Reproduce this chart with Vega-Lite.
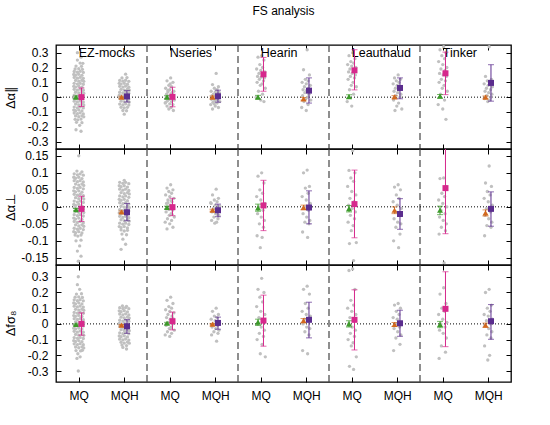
{
"$schema":"https://vega.github.io/schema/vega-lite/v6.json",
"padding":{"left":3,"top":4,"right":10,"bottom":10},
"config":{"font":"Liberation Sans","view":{"stroke":"black","strokeWidth":1.3},
"locale":{"number":{"decimal":".","thousands":",","grouping":[3],"currency":["",""],"minus":"-"}},
"axis":{"domain":false,"grid":false,"tickColor":"black","tickSize":-5,"tickWidth":1,"labelColor":"black","labelFontSize":12,"labelFont":"Liberation Sans","titleFont":"Liberation Sans","titleFontSize":13,"titleFontWeight":"normal","titleColor":"black","labelPadding":13}},
"title":{"text":"FS analysis","fontSize":12,"fontWeight":"normal","font":"Liberation Sans","color":"black","anchor":"middle","frame":"group","offset":17,"baseline":"alphabetic"},
"spacing":0,
"bounds":"flush",
"datasets":{
"sep":[{"x":2},{"x":4},{"x":6},{"x":8}],
"zero":[{"y":0}],
"labels":[{"name":"EZ-mocks","x":0.5,"y":0.3},{"name":"Nseries","x":2.5,"y":0.3},{"name":"Hearin","x":4.5,"y":0.3},{"name":"Leauthaud","x":6.5,"y":0.3},{"name":"Tinker","x":8.5,"y":0.3}],
"m1":[
{"x":0.44,"y":0,"lo":-0.008,"hi":0.008,"k":"MQ t"},{"x":0.56,"y":0.0,"lo":-0.063,"hi":0.062,"k":"MQ"},{"x":1.44,"y":0.0,"lo":-0.006,"hi":0.006,"k":"MQH t"},{"x":1.56,"y":0.005,"lo":-0.033,"hi":0.044,"k":"MQH"},
{"x":2.44,"y":0,"lo":-0.01,"hi":0.01,"k":"MQ t"},{"x":2.56,"y":0.002,"lo":-0.065,"hi":0.067,"k":"MQ"},{"x":3.44,"y":0.0,"lo":-0.008,"hi":0.008,"k":"MQH t"},{"x":3.56,"y":0.006,"lo":-0.034,"hi":0.047,"k":"MQH"},
{"x":4.44,"y":0,"lo":-0.012,"hi":0.012,"k":"MQ t"},{"x":4.56,"y":0.154,"lo":0.04,"hi":0.268,"k":"MQ"},{"x":5.44,"y":-0.011,"lo":-0.02,"hi":-0.002,"k":"MQH t"},{"x":5.56,"y":0.044,"lo":-0.04,"hi":0.13,"k":"MQH"},
{"x":6.44,"y":0.004,"lo":-0.008,"hi":0.016,"k":"MQ t"},{"x":6.56,"y":0.181,"lo":0.049,"hi":0.32,"k":"MQ"},{"x":7.44,"y":0.002,"lo":-0.006,"hi":0.01,"k":"MQH t"},{"x":7.56,"y":0.062,"lo":-0.011,"hi":0.13,"k":"MQH"},
{"x":8.44,"y":0.006,"lo":-0.006,"hi":0.018,"k":"MQ t"},{"x":8.56,"y":0.161,"lo":0.017,"hi":0.304,"k":"MQ"},{"x":9.44,"y":0.0,"lo":-0.008,"hi":0.008,"k":"MQH t"},{"x":9.56,"y":0.096,"lo":-0.027,"hi":0.219,"k":"MQH"}],
"m2":[
{"x":0.44,"y":-0.008,"lo":-0.011,"hi":-0.005,"k":"MQ t"},{"x":0.56,"y":-0.006,"lo":-0.043,"hi":0.031,"k":"MQ"},{"x":1.44,"y":-0.015,"lo":-0.018,"hi":-0.012,"k":"MQH t"},{"x":1.56,"y":-0.016,"lo":-0.041,"hi":0.01,"k":"MQH"},
{"x":2.44,"y":-0.002,"lo":-0.006,"hi":0.002,"k":"MQ t"},{"x":2.56,"y":-0.001,"lo":-0.026,"hi":0.025,"k":"MQ"},{"x":3.44,"y":-0.01,"lo":-0.013,"hi":-0.007,"k":"MQH t"},{"x":3.56,"y":-0.01,"lo":-0.029,"hi":0.008,"k":"MQH"},
{"x":4.44,"y":-0.003,"lo":-0.013,"hi":0.008,"k":"MQ t"},{"x":4.56,"y":0.004,"lo":-0.07,"hi":0.078,"k":"MQ"},{"x":5.44,"y":-0.002,"lo":-0.009,"hi":0.005,"k":"MQH t"},{"x":5.56,"y":-0.002,"lo":-0.05,"hi":0.047,"k":"MQH"},
{"x":6.44,"y":-0.005,"lo":-0.015,"hi":0.004,"k":"MQ t"},{"x":6.56,"y":0.008,"lo":-0.091,"hi":0.108,"k":"MQ"},{"x":7.44,"y":-0.01,"lo":-0.02,"hi":0.0,"k":"MQH t"},{"x":7.56,"y":-0.021,"lo":-0.066,"hi":0.024,"k":"MQH"},
{"x":8.44,"y":-0.01,"lo":-0.023,"hi":0.002,"k":"MQ t"},{"x":8.56,"y":0.055,"lo":-0.079,"hi":0.2,"k":"MQ"},{"x":9.44,"y":-0.018,"lo":-0.027,"hi":-0.009,"k":"MQH t"},{"x":9.56,"y":-0.006,"lo":-0.057,"hi":0.044,"k":"MQH"}],
"m3":[
{"x":0.44,"y":-0.004,"lo":-0.008,"hi":0.0,"k":"MQ t"},{"x":0.56,"y":0.0,"lo":-0.072,"hi":0.07,"k":"MQ"},{"x":1.44,"y":-0.008,"lo":-0.012,"hi":-0.004,"k":"MQH t"},{"x":1.56,"y":-0.015,"lo":-0.06,"hi":0.027,"k":"MQH"},
{"x":2.44,"y":0.004,"lo":-0.002,"hi":0.01,"k":"MQ t"},{"x":2.56,"y":0.017,"lo":-0.038,"hi":0.075,"k":"MQ"},{"x":3.44,"y":-0.002,"lo":-0.007,"hi":0.003,"k":"MQH t"},{"x":3.56,"y":0.006,"lo":-0.034,"hi":0.043,"k":"MQH"},
{"x":4.44,"y":0.011,"lo":-0.01,"hi":0.03,"k":"MQ t"},{"x":4.56,"y":0.021,"lo":-0.142,"hi":0.183,"k":"MQ"},{"x":5.44,"y":0.021,"lo":0.008,"hi":0.034,"k":"MQH t"},{"x":5.56,"y":0.026,"lo":-0.089,"hi":0.138,"k":"MQH"},
{"x":6.44,"y":0.0,"lo":-0.02,"hi":0.02,"k":"MQ t"},{"x":6.56,"y":0.026,"lo":-0.166,"hi":0.217,"k":"MQ"},{"x":7.44,"y":-0.004,"lo":-0.017,"hi":0.009,"k":"MQH t"},{"x":7.56,"y":0.004,"lo":-0.079,"hi":0.087,"k":"MQH"},
{"x":8.44,"y":-0.004,"lo":-0.024,"hi":0.016,"k":"MQ t"},{"x":8.56,"y":0.096,"lo":-0.145,"hi":0.332,"k":"MQ"},{"x":9.44,"y":-0.008,"lo":-0.021,"hi":0.005,"k":"MQH t"},{"x":9.56,"y":0.017,"lo":-0.098,"hi":0.123,"k":"MQH"}],
"p1":[
{"x":0.47,"y":0.3},{"x":0.55,"y":0.27},{"x":0.47,"y":0.25},{"x":0.53,"y":0.23},{"x":0.59,"y":0.228},{"x":0.44,"y":0.21},{"x":0.56,"y":0.208},{"x":0.42,"y":0.19},{"x":0.5,"y":0.192},{"x":0.58,"y":0.188},
{"x":0.4,"y":0.173},{"x":0.47,"y":0.168},{"x":0.53,"y":0.174},{"x":0.6,"y":0.167},
{"x":0.39,"y":0.153},{"x":0.43,"y":0.148},{"x":0.5,"y":0.154},{"x":0.57,"y":0.147},
{"x":0.4,"y":0.133},{"x":0.47,"y":0.128},{"x":0.53,"y":0.134},{"x":0.6,"y":0.127},
{"x":0.43,"y":0.113},{"x":0.5,"y":0.108},{"x":0.57,"y":0.114},{"x":0.61,"y":0.107},
{"x":0.4,"y":0.093},{"x":0.47,"y":0.088},{"x":0.53,"y":0.094},{"x":0.6,"y":0.087},
{"x":0.39,"y":0.073},{"x":0.43,"y":0.068},{"x":0.5,"y":0.074},{"x":0.57,"y":0.067},
{"x":0.4,"y":0.053},{"x":0.47,"y":0.048},{"x":0.53,"y":0.054},{"x":0.6,"y":0.047},
{"x":0.43,"y":0.033},{"x":0.5,"y":0.028},{"x":0.57,"y":0.034},{"x":0.61,"y":0.027},
{"x":0.4,"y":0.013},{"x":0.47,"y":0.008},{"x":0.53,"y":0.014},{"x":0.6,"y":0.007},
{"x":0.39,"y":-0.007},{"x":0.43,"y":-0.012},{"x":0.5,"y":-0.006},{"x":0.57,"y":-0.013},
{"x":0.4,"y":-0.027},{"x":0.47,"y":-0.032},{"x":0.53,"y":-0.026},{"x":0.6,"y":-0.033},
{"x":0.43,"y":-0.047},{"x":0.5,"y":-0.052},{"x":0.57,"y":-0.046},{"x":0.61,"y":-0.053},
{"x":0.4,"y":-0.067},{"x":0.47,"y":-0.072},{"x":0.53,"y":-0.066},{"x":0.6,"y":-0.073},
{"x":0.39,"y":-0.087},{"x":0.43,"y":-0.092},{"x":0.5,"y":-0.086},{"x":0.57,"y":-0.093},
{"x":0.4,"y":-0.107},{"x":0.47,"y":-0.112},{"x":0.53,"y":-0.106},{"x":0.6,"y":-0.113},
{"x":0.43,"y":-0.127},{"x":0.5,"y":-0.132},{"x":0.57,"y":-0.126},{"x":0.61,"y":-0.133},
{"x":0.42,"y":-0.15},{"x":0.48,"y":-0.153},{"x":0.55,"y":-0.148},{"x":0.45,"y":-0.17},{"x":0.57,"y":-0.172},{"x":0.52,"y":-0.19},{"x":0.44,"y":-0.22},{"x":0.55,"y":-0.23},
{"x":1.53,"y":0.155},{"x":1.45,"y":0.13},{"x":1.56,"y":0.132},
{"x":1.4,"y":0.113},{"x":1.47,"y":0.108},{"x":1.53,"y":0.114},{"x":1.6,"y":0.107},
{"x":1.39,"y":0.093},{"x":1.43,"y":0.088},{"x":1.5,"y":0.094},{"x":1.57,"y":0.087},
{"x":1.4,"y":0.073},{"x":1.47,"y":0.068},{"x":1.53,"y":0.074},{"x":1.6,"y":0.067},
{"x":1.43,"y":0.053},{"x":1.5,"y":0.048},{"x":1.57,"y":0.054},{"x":1.61,"y":0.047},
{"x":1.4,"y":0.033},{"x":1.47,"y":0.028},{"x":1.53,"y":0.034},{"x":1.6,"y":0.027},
{"x":1.39,"y":0.013},{"x":1.43,"y":0.008},{"x":1.5,"y":0.014},{"x":1.57,"y":0.007},
{"x":1.4,"y":-0.007},{"x":1.47,"y":-0.012},{"x":1.53,"y":-0.006},{"x":1.6,"y":-0.013},
{"x":1.43,"y":-0.027},{"x":1.5,"y":-0.032},{"x":1.57,"y":-0.026},{"x":1.61,"y":-0.033},
{"x":1.4,"y":-0.047},{"x":1.47,"y":-0.052},{"x":1.53,"y":-0.046},{"x":1.6,"y":-0.053},
{"x":1.43,"y":-0.068},{"x":1.5,"y":-0.072},{"x":1.57,"y":-0.069},
{"x":1.47,"y":-0.09},{"x":1.55,"y":-0.092},{"x":1.5,"y":-0.115},
{"x":2.52,"y":0.13},{"x":2.44,"y":0.11},{"x":2.57,"y":0.1},{"x":2.48,"y":0.08},{"x":2.54,"y":0.07},{"x":2.41,"y":0.06},{"x":2.5,"y":0.05},{"x":2.59,"y":0.04},{"x":2.46,"y":0.035},{"x":2.55,"y":0.03},{"x":2.43,"y":0.02},{"x":2.51,"y":0.015},{"x":2.58,"y":0.01},{"x":2.47,"y":0.005},{"x":2.56,"y":0.0},{"x":2.42,"y":-0.005},{"x":2.53,"y":-0.01},{"x":2.49,"y":-0.015},{"x":2.6,"y":-0.02},{"x":2.45,"y":-0.025},{"x":2.54,"y":-0.03},{"x":2.4,"y":-0.04},{"x":2.5,"y":-0.045},{"x":2.57,"y":-0.05},{"x":2.44,"y":-0.06},{"x":2.53,"y":-0.07},{"x":2.48,"y":-0.08},{"x":2.58,"y":-0.09},{"x":2.46,"y":0.045},{"x":2.55,"y":0.025},{"x":2.41,"y":-0.035},{"x":2.51,"y":0.09},
{"x":3.52,"y":0.16},{"x":3.44,"y":0.085},{"x":3.57,"y":0.07},{"x":3.48,"y":0.06},{"x":3.54,"y":0.05},{"x":3.41,"y":0.04},{"x":3.5,"y":0.035},{"x":3.59,"y":0.03},{"x":3.46,"y":0.02},{"x":3.55,"y":0.015},{"x":3.43,"y":0.01},{"x":3.51,"y":0.005},{"x":3.58,"y":0.0},{"x":3.47,"y":-0.005},{"x":3.56,"y":-0.01},{"x":3.42,"y":-0.015},{"x":3.53,"y":-0.02},{"x":3.49,"y":-0.025},{"x":3.6,"y":-0.03},{"x":3.45,"y":-0.035},{"x":3.54,"y":-0.04},{"x":3.4,"y":-0.05},{"x":3.5,"y":-0.06},{"x":3.57,"y":-0.07},{"x":3.44,"y":-0.08},{"x":3.53,"y":0.025},{"x":3.48,"y":-0.045},
{"x":4.52,"y":0.28},{"x":4.44,"y":0.27},{"x":4.57,"y":0.25},{"x":4.48,"y":0.22},{"x":4.54,"y":0.2},{"x":4.41,"y":0.19},{"x":4.5,"y":0.18},{"x":4.59,"y":0.17},{"x":4.46,"y":0.16},{"x":4.55,"y":0.15},{"x":4.43,"y":0.14},{"x":4.51,"y":0.135},{"x":4.58,"y":0.13},{"x":4.47,"y":0.12},{"x":4.56,"y":0.11},{"x":4.42,"y":0.1},{"x":4.53,"y":0.09},{"x":4.49,"y":0.08},{"x":4.6,"y":0.06},{"x":4.45,"y":0.04},{"x":4.54,"y":0.02},{"x":4.4,"y":0.0},{"x":4.5,"y":-0.02},{"x":4.57,"y":-0.03},
{"x":5.52,"y":0.32},{"x":5.44,"y":0.185},{"x":5.57,"y":0.15},{"x":5.48,"y":0.12},{"x":5.54,"y":0.11},{"x":5.41,"y":0.1},{"x":5.5,"y":0.09},{"x":5.59,"y":0.08},{"x":5.46,"y":0.07},{"x":5.55,"y":0.06},{"x":5.43,"y":0.05},{"x":5.51,"y":0.045},{"x":5.58,"y":0.04},{"x":5.47,"y":0.03},{"x":5.56,"y":0.02},{"x":5.42,"y":0.01},{"x":5.53,"y":0.0},{"x":5.49,"y":-0.01},{"x":5.6,"y":-0.02},{"x":5.45,"y":-0.03},{"x":5.54,"y":-0.05},{"x":5.4,"y":-0.07},{"x":5.5,"y":-0.09},
{"x":6.52,"y":0.3},{"x":6.44,"y":0.28},{"x":6.57,"y":0.26},{"x":6.48,"y":0.24},{"x":6.54,"y":0.23},{"x":6.41,"y":0.22},{"x":6.5,"y":0.21},{"x":6.59,"y":0.2},{"x":6.46,"y":0.19},{"x":6.55,"y":0.18},{"x":6.43,"y":0.17},{"x":6.51,"y":0.16},{"x":6.58,"y":0.15},{"x":6.47,"y":0.14},{"x":6.56,"y":0.13},{"x":6.42,"y":0.12},{"x":6.53,"y":0.1},{"x":6.49,"y":0.08},{"x":6.6,"y":0.07},{"x":6.45,"y":0.05},{"x":6.54,"y":0.02},{"x":6.4,"y":-0.03},{"x":6.5,"y":-0.06},
{"x":7.52,"y":0.15},{"x":7.44,"y":0.13},{"x":7.57,"y":0.12},{"x":7.48,"y":0.11},{"x":7.54,"y":0.1},{"x":7.41,"y":0.09},{"x":7.5,"y":0.08},{"x":7.59,"y":0.07},{"x":7.46,"y":0.06},{"x":7.55,"y":0.05},{"x":7.43,"y":0.04},{"x":7.51,"y":0.03},{"x":7.58,"y":0.02},{"x":7.47,"y":0.01},{"x":7.56,"y":0.0},{"x":7.42,"y":-0.02},{"x":7.53,"y":-0.04},{"x":7.49,"y":-0.06},{"x":7.6,"y":-0.08},{"x":7.45,"y":-0.09},
{"x":8.52,"y":0.34},{"x":8.44,"y":0.32},{"x":8.57,"y":0.3},{"x":8.48,"y":0.28},{"x":8.54,"y":0.26},{"x":8.41,"y":0.24},{"x":8.5,"y":0.22},{"x":8.59,"y":0.2},{"x":8.46,"y":0.19},{"x":8.55,"y":0.18},{"x":8.43,"y":0.16},{"x":8.51,"y":0.15},{"x":8.58,"y":0.14},{"x":8.47,"y":0.12},{"x":8.56,"y":0.11},{"x":8.42,"y":0.1},{"x":8.53,"y":0.08},{"x":8.49,"y":0.06},{"x":8.6,"y":0.04},{"x":8.45,"y":0.02},{"x":8.54,"y":-0.02},{"x":8.4,"y":-0.05},{"x":8.5,"y":-0.08},{"x":8.57,"y":-0.15},
{"x":9.52,"y":0.34},{"x":9.44,"y":0.14},{"x":9.57,"y":0.12},{"x":9.48,"y":0.11},{"x":9.54,"y":0.1},{"x":9.41,"y":0.09},{"x":9.5,"y":0.08},{"x":9.59,"y":0.07},{"x":9.46,"y":0.06},{"x":9.55,"y":0.05},{"x":9.43,"y":0.04},{"x":9.51,"y":0.03},{"x":9.58,"y":0.02},{"x":9.47,"y":0.01},{"x":9.56,"y":0.0},{"x":9.42,"y":-0.01},{"x":9.53,"y":-0.02},{"x":9.49,"y":-0.03}],
"p2":[
{"x":0.5,"y":0.15},{"x":0.46,"y":0.105},{"x":0.57,"y":0.103},
{"x":0.4,"y":0.097},{"x":0.47,"y":0.094},{"x":0.53,"y":0.097},{"x":0.6,"y":0.093},
{"x":0.39,"y":0.087},{"x":0.43,"y":0.084},{"x":0.5,"y":0.087},{"x":0.57,"y":0.083},
{"x":0.4,"y":0.077},{"x":0.47,"y":0.074},{"x":0.53,"y":0.077},{"x":0.6,"y":0.073},
{"x":0.43,"y":0.067},{"x":0.5,"y":0.064},{"x":0.57,"y":0.067},{"x":0.61,"y":0.063},
{"x":0.4,"y":0.057},{"x":0.47,"y":0.054},{"x":0.53,"y":0.057},{"x":0.6,"y":0.053},
{"x":0.39,"y":0.047},{"x":0.43,"y":0.044},{"x":0.5,"y":0.047},{"x":0.57,"y":0.043},
{"x":0.4,"y":0.037},{"x":0.47,"y":0.034},{"x":0.53,"y":0.037},{"x":0.6,"y":0.033},
{"x":0.43,"y":0.027},{"x":0.5,"y":0.024},{"x":0.57,"y":0.027},{"x":0.61,"y":0.023},
{"x":0.4,"y":0.017},{"x":0.47,"y":0.014},{"x":0.53,"y":0.017},{"x":0.6,"y":0.013},
{"x":0.39,"y":0.007},{"x":0.43,"y":0.004},{"x":0.5,"y":0.007},{"x":0.57,"y":0.003},
{"x":0.4,"y":-0.003},{"x":0.47,"y":-0.006},{"x":0.53,"y":-0.003},{"x":0.6,"y":-0.007},
{"x":0.43,"y":-0.013},{"x":0.5,"y":-0.016},{"x":0.57,"y":-0.013},{"x":0.61,"y":-0.017},
{"x":0.4,"y":-0.023},{"x":0.47,"y":-0.026},{"x":0.53,"y":-0.023},{"x":0.6,"y":-0.027},
{"x":0.39,"y":-0.033},{"x":0.43,"y":-0.036},{"x":0.5,"y":-0.033},{"x":0.57,"y":-0.037},
{"x":0.4,"y":-0.043},{"x":0.47,"y":-0.046},{"x":0.53,"y":-0.043},{"x":0.6,"y":-0.047},
{"x":0.43,"y":-0.053},{"x":0.5,"y":-0.056},{"x":0.57,"y":-0.053},{"x":0.61,"y":-0.057},
{"x":0.4,"y":-0.063},{"x":0.47,"y":-0.066},{"x":0.53,"y":-0.063},{"x":0.6,"y":-0.067},
{"x":0.39,"y":-0.073},{"x":0.43,"y":-0.076},{"x":0.5,"y":-0.073},{"x":0.57,"y":-0.077},
{"x":0.42,"y":-0.083},{"x":0.48,"y":-0.086},{"x":0.55,"y":-0.083},
{"x":0.44,"y":-0.1},{"x":0.55,"y":-0.098},{"x":0.52,"y":-0.115},{"x":0.47,"y":-0.13},{"x":0.55,"y":-0.145},{"x":0.49,"y":-0.16},
{"x":1.5,"y":0.078},
{"x":1.4,"y":0.072},{"x":1.47,"y":0.069},{"x":1.53,"y":0.072},{"x":1.6,"y":0.068},
{"x":1.39,"y":0.062},{"x":1.43,"y":0.059},{"x":1.5,"y":0.062},{"x":1.57,"y":0.058},
{"x":1.4,"y":0.052},{"x":1.47,"y":0.049},{"x":1.53,"y":0.052},{"x":1.6,"y":0.048},
{"x":1.43,"y":0.042},{"x":1.5,"y":0.039},{"x":1.57,"y":0.042},{"x":1.61,"y":0.038},
{"x":1.4,"y":0.032},{"x":1.47,"y":0.029},{"x":1.53,"y":0.032},{"x":1.6,"y":0.028},
{"x":1.39,"y":0.022},{"x":1.43,"y":0.019},{"x":1.5,"y":0.022},{"x":1.57,"y":0.018},
{"x":1.4,"y":0.012},{"x":1.47,"y":0.009},{"x":1.53,"y":0.012},{"x":1.6,"y":0.008},
{"x":1.43,"y":0.002},{"x":1.5,"y":-0.001},{"x":1.57,"y":0.002},{"x":1.61,"y":-0.002},
{"x":1.4,"y":-0.008},{"x":1.47,"y":-0.011},{"x":1.53,"y":-0.008},{"x":1.6,"y":-0.012},
{"x":1.39,"y":-0.018},{"x":1.43,"y":-0.021},{"x":1.5,"y":-0.018},{"x":1.57,"y":-0.022},
{"x":1.4,"y":-0.028},{"x":1.47,"y":-0.031},{"x":1.53,"y":-0.028},{"x":1.6,"y":-0.032},
{"x":1.43,"y":-0.038},{"x":1.5,"y":-0.041},{"x":1.57,"y":-0.038},{"x":1.61,"y":-0.042},
{"x":1.4,"y":-0.048},{"x":1.47,"y":-0.051},{"x":1.53,"y":-0.048},{"x":1.6,"y":-0.052},
{"x":1.39,"y":-0.058},{"x":1.43,"y":-0.061},{"x":1.5,"y":-0.058},{"x":1.57,"y":-0.062},
{"x":1.43,"y":-0.068},{"x":1.5,"y":-0.071},{"x":1.57,"y":-0.069},
{"x":1.45,"y":-0.08},{"x":1.55,"y":-0.082},{"x":1.47,"y":-0.095},{"x":1.53,"y":-0.11},{"x":1.43,"y":-0.125},
{"x":2.52,"y":0.065},{"x":2.44,"y":0.055},{"x":2.57,"y":0.05},{"x":2.48,"y":0.045},{"x":2.54,"y":0.04},{"x":2.41,"y":0.035},{"x":2.5,"y":0.03},{"x":2.59,"y":0.025},{"x":2.46,"y":0.02},{"x":2.55,"y":0.015},{"x":2.43,"y":0.01},{"x":2.51,"y":0.005},{"x":2.58,"y":0.0},{"x":2.47,"y":-0.005},{"x":2.56,"y":-0.01},{"x":2.42,"y":-0.015},{"x":2.53,"y":-0.02},{"x":2.49,"y":-0.025},{"x":2.6,"y":-0.03},{"x":2.45,"y":-0.035},{"x":2.54,"y":-0.04},{"x":2.4,"y":-0.045},{"x":2.5,"y":-0.05},{"x":2.57,"y":-0.06},{"x":2.44,"y":-0.065},{"x":2.53,"y":0.018},{"x":2.48,"y":-0.008},{"x":2.58,"y":0.003},{"x":2.46,"y":0.012},{"x":2.55,"y":-0.022},
{"x":3.52,"y":0.052},{"x":3.44,"y":0.035},{"x":3.57,"y":0.025},{"x":3.48,"y":0.02},{"x":3.54,"y":0.015},{"x":3.41,"y":0.01},{"x":3.5,"y":0.005},{"x":3.59,"y":0.0},{"x":3.46,"y":-0.005},{"x":3.55,"y":-0.01},{"x":3.43,"y":-0.015},{"x":3.51,"y":-0.02},{"x":3.58,"y":-0.025},{"x":3.47,"y":-0.03},{"x":3.56,"y":-0.035},{"x":3.42,"y":-0.04},{"x":3.53,"y":-0.045},{"x":3.49,"y":-0.048},{"x":3.6,"y":0.002},{"x":3.45,"y":-0.012},{"x":3.54,"y":-0.022},{"x":3.4,"y":0.012},
{"x":4.52,"y":0.1},{"x":4.44,"y":0.09},{"x":4.57,"y":0.07},{"x":4.48,"y":0.05},{"x":4.54,"y":0.04},{"x":4.41,"y":0.03},{"x":4.5,"y":0.02},{"x":4.59,"y":0.01},{"x":4.46,"y":0.0},{"x":4.55,"y":-0.01},{"x":4.43,"y":-0.02},{"x":4.51,"y":-0.03},{"x":4.58,"y":-0.04},{"x":4.47,"y":-0.05},{"x":4.56,"y":-0.06},{"x":4.42,"y":-0.085},{"x":4.53,"y":-0.09},{"x":4.49,"y":-0.12},
{"x":5.52,"y":0.108},{"x":5.44,"y":0.1},{"x":5.57,"y":0.06},{"x":5.48,"y":0.055},{"x":5.54,"y":0.04},{"x":5.41,"y":0.03},{"x":5.5,"y":0.02},{"x":5.59,"y":0.01},{"x":5.46,"y":0.0},{"x":5.55,"y":-0.01},{"x":5.43,"y":-0.02},{"x":5.51,"y":-0.03},{"x":5.58,"y":-0.04},{"x":5.47,"y":-0.045},{"x":5.56,"y":-0.05},{"x":5.42,"y":-0.074},{"x":5.53,"y":-0.09},
{"x":6.52,"y":0.165},{"x":6.44,"y":0.107},{"x":6.57,"y":0.1},{"x":6.48,"y":0.085},{"x":6.54,"y":0.075},{"x":6.41,"y":0.06},{"x":6.5,"y":0.045},{"x":6.59,"y":0.035},{"x":6.46,"y":0.025},{"x":6.55,"y":0.015},{"x":6.43,"y":0.005},{"x":6.51,"y":-0.005},{"x":6.58,"y":-0.015},{"x":6.47,"y":-0.025},{"x":6.56,"y":-0.035},{"x":6.42,"y":-0.045},{"x":6.53,"y":-0.055},{"x":6.49,"y":-0.07},{"x":6.6,"y":-0.105},{"x":6.45,"y":-0.108},{"x":6.54,"y":-0.158},
{"x":7.52,"y":0.065},{"x":7.44,"y":0.058},{"x":7.57,"y":0.05},{"x":7.48,"y":0.035},{"x":7.54,"y":0.025},{"x":7.41,"y":0.015},{"x":7.5,"y":0.005},{"x":7.59,"y":-0.005},{"x":7.46,"y":-0.015},{"x":7.55,"y":-0.025},{"x":7.43,"y":-0.035},{"x":7.51,"y":-0.045},{"x":7.58,"y":-0.05},{"x":7.47,"y":-0.06},{"x":7.56,"y":-0.08},{"x":7.42,"y":-0.1},{"x":7.53,"y":-0.12},
{"x":8.52,"y":0.085},{"x":8.44,"y":0.083},{"x":8.57,"y":0.06},{"x":8.48,"y":0.04},{"x":8.54,"y":0.03},{"x":8.41,"y":0.02},{"x":8.5,"y":0.01},{"x":8.59,"y":0.0},{"x":8.46,"y":-0.01},{"x":8.55,"y":-0.02},{"x":8.43,"y":-0.03},{"x":8.51,"y":-0.04},{"x":8.58,"y":-0.05},{"x":8.47,"y":-0.06},{"x":8.56,"y":-0.07},{"x":8.42,"y":-0.08},{"x":8.53,"y":-0.165},
{"x":9.52,"y":0.12},{"x":9.44,"y":0.07},{"x":9.57,"y":0.06},{"x":9.48,"y":0.045},{"x":9.54,"y":0.035},{"x":9.41,"y":0.025},{"x":9.5,"y":0.015},{"x":9.59,"y":0.005},{"x":9.46,"y":-0.005},{"x":9.55,"y":-0.015},{"x":9.43,"y":-0.025},{"x":9.51,"y":-0.035},{"x":9.58,"y":-0.045},{"x":9.47,"y":-0.055},{"x":9.56,"y":-0.06},{"x":9.42,"y":-0.085}],
"p3":[
{"x":0.49,"y":0.3},{"x":0.47,"y":0.25},{"x":0.52,"y":0.22},{"x":0.45,"y":0.19},{"x":0.56,"y":0.192},{"x":0.42,"y":0.17},{"x":0.5,"y":0.172},{"x":0.58,"y":0.168},
{"x":0.4,"y":0.153},{"x":0.47,"y":0.148},{"x":0.53,"y":0.154},{"x":0.6,"y":0.147},
{"x":0.39,"y":0.133},{"x":0.43,"y":0.128},{"x":0.5,"y":0.134},{"x":0.57,"y":0.127},
{"x":0.4,"y":0.113},{"x":0.47,"y":0.108},{"x":0.53,"y":0.114},{"x":0.6,"y":0.107},
{"x":0.43,"y":0.093},{"x":0.5,"y":0.088},{"x":0.57,"y":0.094},{"x":0.61,"y":0.087},
{"x":0.4,"y":0.073},{"x":0.47,"y":0.068},{"x":0.53,"y":0.074},{"x":0.6,"y":0.067},
{"x":0.39,"y":0.053},{"x":0.43,"y":0.048},{"x":0.5,"y":0.054},{"x":0.57,"y":0.047},
{"x":0.4,"y":0.033},{"x":0.47,"y":0.028},{"x":0.53,"y":0.034},{"x":0.6,"y":0.027},
{"x":0.43,"y":0.013},{"x":0.5,"y":0.008},{"x":0.57,"y":0.014},{"x":0.61,"y":0.007},
{"x":0.4,"y":-0.007},{"x":0.47,"y":-0.012},{"x":0.53,"y":-0.006},{"x":0.6,"y":-0.013},
{"x":0.39,"y":-0.027},{"x":0.43,"y":-0.032},{"x":0.5,"y":-0.026},{"x":0.57,"y":-0.033},
{"x":0.4,"y":-0.047},{"x":0.47,"y":-0.052},{"x":0.53,"y":-0.046},{"x":0.6,"y":-0.053},
{"x":0.43,"y":-0.067},{"x":0.5,"y":-0.072},{"x":0.57,"y":-0.066},{"x":0.61,"y":-0.073},
{"x":0.4,"y":-0.087},{"x":0.47,"y":-0.092},{"x":0.53,"y":-0.086},{"x":0.6,"y":-0.093},
{"x":0.39,"y":-0.107},{"x":0.43,"y":-0.112},{"x":0.5,"y":-0.106},{"x":0.57,"y":-0.113},
{"x":0.4,"y":-0.127},{"x":0.47,"y":-0.132},{"x":0.53,"y":-0.126},{"x":0.6,"y":-0.133},
{"x":0.43,"y":-0.147},{"x":0.5,"y":-0.152},{"x":0.57,"y":-0.146},{"x":0.61,"y":-0.153},
{"x":0.44,"y":-0.17},{"x":0.54,"y":-0.172},{"x":0.58,"y":-0.168},{"x":0.48,"y":-0.19},{"x":0.53,"y":-0.21},{"x":0.46,"y":-0.22},{"x":0.49,"y":-0.3},
{"x":1.46,"y":0.115},{"x":1.55,"y":0.112},
{"x":1.4,"y":0.103},{"x":1.47,"y":0.098},{"x":1.53,"y":0.104},{"x":1.6,"y":0.097},
{"x":1.39,"y":0.083},{"x":1.43,"y":0.078},{"x":1.5,"y":0.084},{"x":1.57,"y":0.077},
{"x":1.4,"y":0.063},{"x":1.47,"y":0.058},{"x":1.53,"y":0.064},{"x":1.6,"y":0.057},
{"x":1.43,"y":0.043},{"x":1.5,"y":0.038},{"x":1.57,"y":0.044},{"x":1.61,"y":0.037},
{"x":1.4,"y":0.023},{"x":1.47,"y":0.018},{"x":1.53,"y":0.024},{"x":1.6,"y":0.017},
{"x":1.39,"y":0.003},{"x":1.43,"y":-0.002},{"x":1.5,"y":0.004},{"x":1.57,"y":-0.003},
{"x":1.4,"y":-0.017},{"x":1.47,"y":-0.022},{"x":1.53,"y":-0.016},{"x":1.6,"y":-0.023},
{"x":1.43,"y":-0.037},{"x":1.5,"y":-0.042},{"x":1.57,"y":-0.036},{"x":1.61,"y":-0.043},
{"x":1.4,"y":-0.057},{"x":1.47,"y":-0.062},{"x":1.53,"y":-0.056},{"x":1.6,"y":-0.063},
{"x":1.39,"y":-0.077},{"x":1.43,"y":-0.082},{"x":1.5,"y":-0.076},{"x":1.57,"y":-0.083},
{"x":1.4,"y":-0.097},{"x":1.47,"y":-0.102},{"x":1.53,"y":-0.096},{"x":1.6,"y":-0.103},
{"x":1.43,"y":-0.117},{"x":1.5,"y":-0.122},{"x":1.57,"y":-0.116},{"x":1.61,"y":-0.123},
{"x":1.45,"y":-0.135},{"x":1.55,"y":-0.138},{"x":1.47,"y":-0.15},{"x":1.55,"y":-0.16},
{"x":2.52,"y":0.17},{"x":2.44,"y":0.15},{"x":2.57,"y":0.13},{"x":2.48,"y":0.11},{"x":2.54,"y":0.1},{"x":2.41,"y":0.09},{"x":2.5,"y":0.08},{"x":2.59,"y":0.07},{"x":2.46,"y":0.06},{"x":2.55,"y":0.05},{"x":2.43,"y":0.04},{"x":2.51,"y":0.03},{"x":2.58,"y":0.02},{"x":2.47,"y":0.01},{"x":2.56,"y":0.0},{"x":2.42,"y":-0.01},{"x":2.53,"y":-0.02},{"x":2.49,"y":-0.03},{"x":2.6,"y":-0.04},{"x":2.45,"y":-0.05},{"x":2.54,"y":-0.06},{"x":2.4,"y":-0.07},{"x":2.5,"y":-0.08},{"x":2.57,"y":0.035},{"x":2.44,"y":0.005},{"x":2.53,"y":-0.025},
{"x":3.52,"y":0.1},{"x":3.44,"y":0.08},{"x":3.57,"y":0.06},{"x":3.48,"y":0.05},{"x":3.54,"y":0.04},{"x":3.41,"y":0.03},{"x":3.5,"y":0.02},{"x":3.59,"y":0.01},{"x":3.46,"y":0.0},{"x":3.55,"y":-0.01},{"x":3.43,"y":-0.02},{"x":3.51,"y":-0.03},{"x":3.58,"y":-0.04},{"x":3.47,"y":-0.05},{"x":3.56,"y":-0.06},{"x":3.42,"y":-0.07},{"x":3.53,"y":-0.11},
{"x":4.52,"y":0.29},{"x":4.44,"y":0.22},{"x":4.57,"y":0.2},{"x":4.48,"y":0.17},{"x":4.54,"y":0.14},{"x":4.41,"y":0.11},{"x":4.5,"y":0.08},{"x":4.59,"y":0.06},{"x":4.46,"y":0.04},{"x":4.55,"y":0.02},{"x":4.43,"y":0.0},{"x":4.51,"y":-0.02},{"x":4.58,"y":-0.04},{"x":4.47,"y":-0.06},{"x":4.56,"y":-0.08},{"x":4.42,"y":-0.1},{"x":4.53,"y":-0.13},{"x":4.49,"y":-0.19},{"x":4.6,"y":-0.21},
{"x":5.52,"y":0.24},{"x":5.44,"y":0.22},{"x":5.57,"y":0.19},{"x":5.48,"y":0.13},{"x":5.54,"y":0.1},{"x":5.41,"y":0.08},{"x":5.5,"y":0.06},{"x":5.59,"y":0.05},{"x":5.46,"y":0.03},{"x":5.55,"y":0.02},{"x":5.43,"y":0.0},{"x":5.51,"y":-0.02},{"x":5.58,"y":-0.03},{"x":5.47,"y":-0.05},{"x":5.56,"y":-0.07},{"x":5.42,"y":-0.17},{"x":5.53,"y":-0.19},
{"x":6.52,"y":0.35},{"x":6.44,"y":0.34},{"x":6.57,"y":0.22},{"x":6.48,"y":0.15},{"x":6.54,"y":0.12},{"x":6.41,"y":0.1},{"x":6.5,"y":0.08},{"x":6.59,"y":0.06},{"x":6.46,"y":0.04},{"x":6.55,"y":0.02},{"x":6.43,"y":0.0},{"x":6.51,"y":-0.02},{"x":6.58,"y":-0.04},{"x":6.47,"y":-0.06},{"x":6.56,"y":-0.08},{"x":6.42,"y":-0.1},{"x":6.53,"y":-0.12},{"x":6.49,"y":-0.14},{"x":6.6,"y":-0.21},{"x":6.45,"y":-0.27},{"x":6.54,"y":-0.29},
{"x":7.52,"y":0.13},{"x":7.44,"y":0.12},{"x":7.57,"y":0.1},{"x":7.48,"y":0.08},{"x":7.54,"y":0.06},{"x":7.41,"y":0.04},{"x":7.5,"y":0.03},{"x":7.59,"y":0.01},{"x":7.46,"y":0.0},{"x":7.55,"y":-0.02},{"x":7.43,"y":-0.03},{"x":7.51,"y":-0.05},{"x":7.58,"y":-0.07},{"x":7.47,"y":-0.09},{"x":7.56,"y":-0.13},{"x":7.42,"y":-0.17},
{"x":8.52,"y":0.23},{"x":8.44,"y":0.19},{"x":8.57,"y":0.13},{"x":8.48,"y":0.1},{"x":8.54,"y":0.08},{"x":8.41,"y":0.06},{"x":8.5,"y":0.03},{"x":8.59,"y":0.01},{"x":8.46,"y":0.0},{"x":8.55,"y":-0.02},{"x":8.43,"y":-0.04},{"x":8.51,"y":-0.06},{"x":8.58,"y":-0.09},{"x":8.47,"y":-0.14},{"x":8.56,"y":-0.18},{"x":8.42,"y":-0.22},
{"x":9.52,"y":0.22},{"x":9.44,"y":0.2},{"x":9.57,"y":0.12},{"x":9.48,"y":0.1},{"x":9.54,"y":0.08},{"x":9.41,"y":0.06},{"x":9.5,"y":0.05},{"x":9.59,"y":0.03},{"x":9.46,"y":0.02},{"x":9.55,"y":0.0},{"x":9.43,"y":-0.01},{"x":9.51,"y":-0.03},{"x":9.58,"y":-0.05},{"x":9.47,"y":-0.07},{"x":9.56,"y":-0.09},{"x":9.42,"y":-0.14},{"x":9.53,"y":-0.2},{"x":9.49,"y":-0.23}]
},
"vconcat":[
{"width":455,"height":104,
"layer":[
{"data":{"name":"sep"},"mark":{"type":"rule","color":"#444444","strokeDash":[7,4],"strokeWidth":1.2},
"encoding":{"x":{"field":"x","type":"quantitative","scale":{"domain":[0,10],"nice":false,"zero":false},"axis":{"orient":"top","values":[0.5,1.5,2.5,3.5,4.5,5.5,6.5,7.5,8.5,9.5],"labels":false,"title":null}}}},
{"data":{"name":"zero"},"mark":{"type":"rule","color":"black","strokeDash":[1,2],"strokeWidth":1},
"encoding":{"y":{"field":"y","type":"quantitative","axis":null}}},
{"data":{"name":"p1"},"mark":{"type":"circle","color":"#c0c0c0","size":11,"opacity":1,"clip":true},
"encoding":{"x":{"field":"x","type":"quantitative","axis":{"orient":"bottom","values":[0.5,1.5,2.5,3.5,4.5,5.5,6.5,7.5,8.5,9.5],"labels":false,"title":null}},
"y":{"field":"y","type":"quantitative","scale":{"domain":[-0.35,0.352],"nice":false,"zero":false},"axis":{"orient":"left","values":[-0.3,-0.2,-0.1,0,0.1,0.2,0.3],"format":"~g","title":"Δα∥","titleX":-46,"titleY":52,"titleBaseline":"middle","titleAngle":-90}}}},
{"data":{"name":"labels"},"mark":{"type":"text","align":"left","baseline":"middle","fontSize":12.5,"color":"black","font":"Liberation Sans"},
"encoding":{"x":{"field":"x","type":"quantitative","axis":null},"y":{"field":"y","type":"quantitative","axis":null},"text":{"field":"name"}}},
{"data":{"name":"m1"},"mark":{"type":"rule","strokeWidth":1,"clip":true},
"encoding":{"x":{"field":"x","type":"quantitative","axis":null},"y":{"field":"lo","type":"quantitative","axis":null},"y2":{"field":"hi"},
"color":{"field":"k","type":"nominal","scale":{"domain":["MQ t","MQ","MQH t","MQH"],"range":["#3c9a2a","#d6288c","#d2691e","#5b2d8e"]},"legend":null}}},
{"data":{"name":"m1"},"mark":{"type":"tick","orient":"horizontal","size":6,"thickness":1,"clip":true},
"encoding":{"x":{"field":"x","type":"quantitative","axis":null},"y":{"field":"lo","type":"quantitative","axis":null},"color":{"field":"k","type":"nominal","legend":null}}},
{"data":{"name":"m1"},"mark":{"type":"tick","orient":"horizontal","size":6,"thickness":1,"clip":true},
"encoding":{"x":{"field":"x","type":"quantitative","axis":null},"y":{"field":"hi","type":"quantitative","axis":null},"color":{"field":"k","type":"nominal","legend":null}}},
{"data":{"name":"m1"},"mark":{"type":"point","filled":true,"size":36,"opacity":1},
"encoding":{"x":{"field":"x","type":"quantitative","axis":null},"y":{"field":"y","type":"quantitative","axis":{"orient":"right","values":[-0.3,-0.2,-0.1,0,0.1,0.2,0.3],"labels":false,"title":null}},
"color":{"field":"k","type":"nominal","legend":null},
"shape":{"field":"k","type":"nominal","scale":{"domain":["MQ t","MQ","MQH t","MQH"],"range":["triangle-up","square","triangle-up","square"]},"legend":null}}}
],
"resolve":{"axis":{"x":"independent","y":"independent"}}},
{"width":455,"height":116,
"layer":[
{"data":{"name":"sep"},"mark":{"type":"rule","color":"#444444","strokeDash":[7,4],"strokeWidth":1.2},
"encoding":{"x":{"field":"x","type":"quantitative","scale":{"domain":[0,10],"nice":false,"zero":false},"axis":{"orient":"top","values":[0.5,1.5,2.5,3.5,4.5,5.5,6.5,7.5,8.5,9.5],"labels":false,"title":null}}}},
{"data":{"name":"zero"},"mark":{"type":"rule","color":"black","strokeDash":[1,2],"strokeWidth":1},
"encoding":{"y":{"field":"y","type":"quantitative","axis":null}}},
{"data":{"name":"p2"},"mark":{"type":"circle","color":"#c0c0c0","size":11,"opacity":1,"clip":true},
"encoding":{"x":{"field":"x","type":"quantitative","axis":{"orient":"bottom","values":[0.5,1.5,2.5,3.5,4.5,5.5,6.5,7.5,8.5,9.5],"labels":false,"title":null}},
"y":{"field":"y","type":"quantitative","scale":{"domain":[-0.171,0.17],"nice":false,"zero":false},"axis":{"orient":"left","values":[-0.15,-0.1,-0.05,0,0.05,0.1,0.15],"format":"~g","title":"Δα⊥","titleX":-46,"titleY":58,"titleBaseline":"middle","titleAngle":-90}}}},
{"data":{"name":"m2"},"mark":{"type":"rule","strokeWidth":1,"clip":true},
"encoding":{"x":{"field":"x","type":"quantitative","axis":null},"y":{"field":"lo","type":"quantitative","axis":null},"y2":{"field":"hi"},
"color":{"field":"k","type":"nominal","scale":{"domain":["MQ t","MQ","MQH t","MQH"],"range":["#3c9a2a","#d6288c","#d2691e","#5b2d8e"]},"legend":null}}},
{"data":{"name":"m2"},"mark":{"type":"tick","orient":"horizontal","size":6,"thickness":1,"clip":true},
"encoding":{"x":{"field":"x","type":"quantitative","axis":null},"y":{"field":"lo","type":"quantitative","axis":null},"color":{"field":"k","type":"nominal","legend":null}}},
{"data":{"name":"m2"},"mark":{"type":"tick","orient":"horizontal","size":6,"thickness":1,"clip":true},
"encoding":{"x":{"field":"x","type":"quantitative","axis":null},"y":{"field":"hi","type":"quantitative","axis":null},"color":{"field":"k","type":"nominal","legend":null}}},
{"data":{"name":"m2"},"mark":{"type":"point","filled":true,"size":36,"opacity":1},
"encoding":{"x":{"field":"x","type":"quantitative","axis":null},"y":{"field":"y","type":"quantitative","axis":{"orient":"right","values":[-0.15,-0.1,-0.05,0,0.05,0.1,0.15],"labels":false,"title":null}},
"color":{"field":"k","type":"nominal","legend":null},
"shape":{"field":"k","type":"nominal","scale":{"domain":["MQ t","MQ","MQH t","MQH"],"range":["triangle-up","square","triangle-up","square"]},"legend":null}}}
],
"resolve":{"axis":{"x":"independent","y":"independent"}}},
{"width":455,"height":117,
"layer":[
{"data":{"name":"sep"},"mark":{"type":"rule","color":"#444444","strokeDash":[7,4],"strokeWidth":1.2},
"encoding":{"x":{"field":"x","type":"quantitative","scale":{"domain":[0,10],"nice":false,"zero":false},"axis":{"orient":"top","values":[0.5,1.5,2.5,3.5,4.5,5.5,6.5,7.5,8.5,9.5],"labels":false,"title":null}}}},
{"data":{"name":"zero"},"mark":{"type":"rule","color":"black","strokeDash":[1,2],"strokeWidth":1},
"encoding":{"y":{"field":"y","type":"quantitative","axis":null}}},
{"data":{"name":"p3"},"mark":{"type":"circle","color":"#c0c0c0","size":11,"opacity":1,"clip":true},
"encoding":{"x":{"field":"x","type":"quantitative","axis":{"orient":"bottom","values":[0.5,1.5,2.5,3.5,4.5,5.5,6.5,7.5,8.5,9.5],"labelExpr":"datum.value % 2 < 1 ? 'MQ' : 'MQH'","title":null}},
"y":{"field":"y","type":"quantitative","scale":{"domain":[-0.37,0.375],"nice":false,"zero":false},"axis":{"orient":"left","values":[-0.3,-0.2,-0.1,0,0.1,0.2,0.3],"format":"~g","title":"Δfσ₈","titleX":-46,"titleY":58,"titleBaseline":"middle","titleAngle":-90}}}},
{"data":{"name":"m3"},"mark":{"type":"rule","strokeWidth":1,"clip":true},
"encoding":{"x":{"field":"x","type":"quantitative","axis":null},"y":{"field":"lo","type":"quantitative","axis":null},"y2":{"field":"hi"},
"color":{"field":"k","type":"nominal","scale":{"domain":["MQ t","MQ","MQH t","MQH"],"range":["#3c9a2a","#d6288c","#d2691e","#5b2d8e"]},"legend":null}}},
{"data":{"name":"m3"},"mark":{"type":"tick","orient":"horizontal","size":6,"thickness":1,"clip":true},
"encoding":{"x":{"field":"x","type":"quantitative","axis":null},"y":{"field":"lo","type":"quantitative","axis":null},"color":{"field":"k","type":"nominal","legend":null}}},
{"data":{"name":"m3"},"mark":{"type":"tick","orient":"horizontal","size":6,"thickness":1,"clip":true},
"encoding":{"x":{"field":"x","type":"quantitative","axis":null},"y":{"field":"hi","type":"quantitative","axis":null},"color":{"field":"k","type":"nominal","legend":null}}},
{"data":{"name":"m3"},"mark":{"type":"point","filled":true,"size":36,"opacity":1},
"encoding":{"x":{"field":"x","type":"quantitative","axis":null},"y":{"field":"y","type":"quantitative","axis":{"orient":"right","values":[-0.3,-0.2,-0.1,0,0.1,0.2,0.3],"labels":false,"title":null}},
"color":{"field":"k","type":"nominal","legend":null},
"shape":{"field":"k","type":"nominal","scale":{"domain":["MQ t","MQ","MQH t","MQH"],"range":["triangle-up","square","triangle-up","square"]},"legend":null}}}
],
"resolve":{"axis":{"x":"independent","y":"independent"}}}
]
}
